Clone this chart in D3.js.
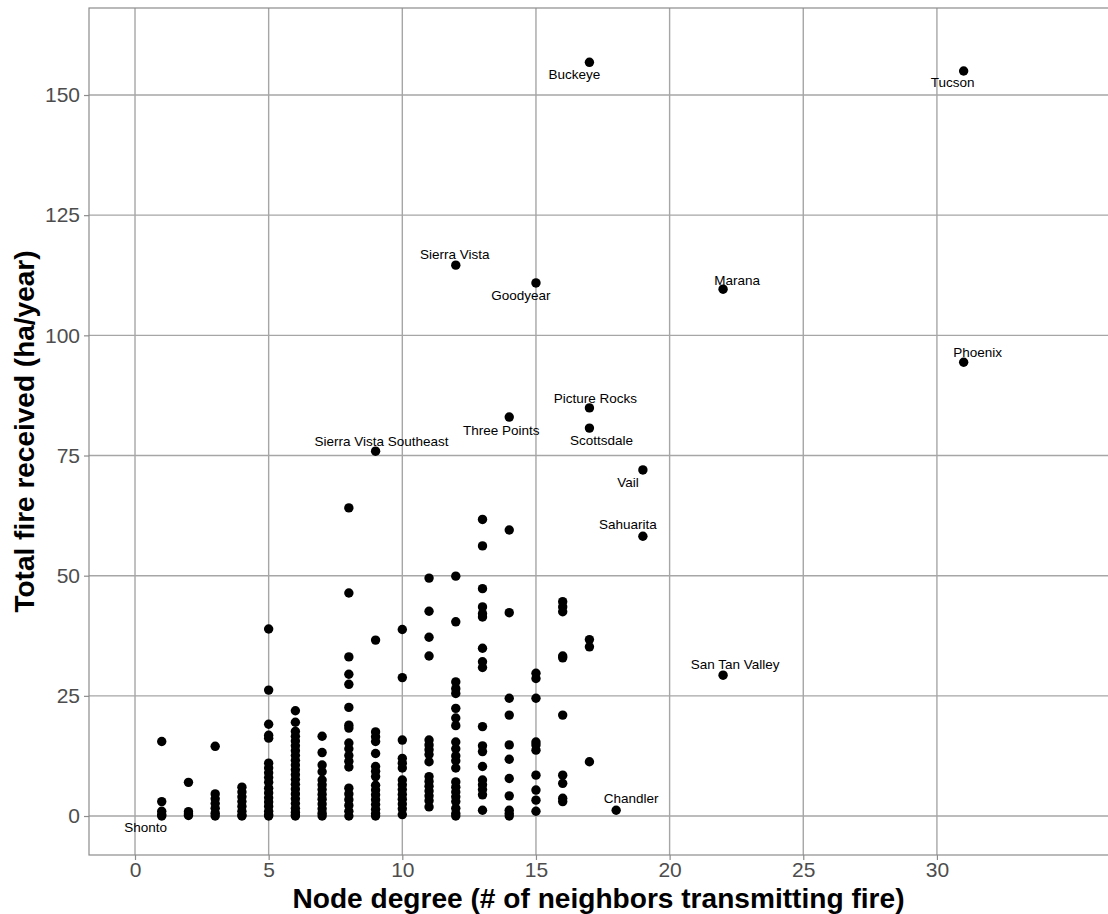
<!DOCTYPE html>
<html>
<head>
<meta charset="utf-8">
<script src="https://cdn.jsdelivr.net/npm/d3@7"></script>
<style>
  body { margin: 0; background: #fff; }
  svg { display: block; font-family: "Liberation Sans", Arial, sans-serif; }
</style>
</head>
<body>
<svg id="chart"></svg>
<script>
// unlabelled municipalities, grouped by node degree
const degrees = [1, 2, 3, 4, 5, 6, 7, 8, 9, 10, 11, 12, 13, 14, 15, 16, 17];
const fireByDegree = [
  [15.5, 3.0, 1.0, 0.3],
  [7.0, 0.9, 0.4, 0.1],
  [14.5, 4.6, 3.6, 2.6, 1.6, 0.6, 0],
  [6.0, 5.0, 4.0, 3.0, 2.0, 1.0, 0.2, 0],
  [38.9, 26.2, 19.1, 16.8, 16.2, 11.0, 10.0, 9.0, 8.0, 7.0, 5.8, 4.8, 3.8, 2.9, 2.0, 1.0, 0.3, 0],
  [21.9, 19.5, 17.6, 16.6, 15.6, 14.6, 13.6, 12.6, 11.6, 10.6, 9.6, 8.6, 7.6, 6.6, 5.6, 4.6, 3.6, 2.6, 1.6, 0.8, 0.2, 0],
  [16.6, 13.2, 10.6, 9.2, 7.5, 6.5, 5.5, 4.5, 3.5, 2.5, 1.5, 0.6, 0],
  [64.1, 46.4, 33.1, 29.5, 27.4, 22.6, 18.9, 18.3, 15.2, 14.0, 12.6, 11.4, 10.2, 5.8, 4.6, 3.4, 2.2, 1.0, 0],
  [36.6, 17.5, 16.5, 15.5, 13.0, 10.3, 9.3, 8.2, 6.4, 5.4, 4.4, 3.4, 2.4, 1.4, 0.5, 0],
  [38.8, 28.8, 15.8, 12.0, 11.0, 10.0, 7.5, 6.5, 5.5, 4.5, 3.5, 2.5, 1.5, 0.3],
  [49.5, 42.6, 37.2, 33.3, 15.8, 14.8, 13.8, 12.8, 11.3, 8.2, 7.2, 6.2, 5.2, 4.2, 3.2, 1.9],
  [49.9, 40.4, 27.9, 26.5, 25.5, 22.4, 20.4, 18.8, 15.4, 14.0, 12.5, 11.5, 10.0, 7.1, 6.0, 5.0, 4.0, 3.0, 1.6, 0.5, 0],
  [61.7, 56.2, 47.3, 43.5, 42.1, 41.4, 34.9, 32.1, 30.9, 18.6, 14.6, 13.4, 10.3, 7.5, 6.5, 5.5, 4.4, 1.2],
  [59.5, 42.3, 24.5, 21.0, 14.8, 11.8, 7.8, 4.2, 1.2, 0.5, 0],
  [29.7, 28.6, 24.5, 15.4, 14.8, 13.7, 8.5, 5.4, 3.3, 1.0],
  [44.6, 43.5, 42.5, 33.3, 32.9, 21.0, 8.5, 6.8, 3.7, 3.0],
  [36.7, 35.2, 11.3]
];

// labelled municipalities
const cityNames = ["Buckeye", "Tucson", "Sierra Vista", "Goodyear", "Marana", "Phoenix",
  "Picture Rocks", "Three Points", "Scottsdale", "Sierra Vista Southeast", "Vail",
  "Sahuarita", "San Tan Valley", "Chandler", "Shonto"];
const cityDegree = [17, 31, 12, 15, 22, 31, 17, 14, 17, 9, 19, 19, 22, 18, 1];
const cityFire = [156.8, 155.0, 114.6, 110.9, 109.6, 94.4, 84.9, 83.0, 80.7, 75.9, 72.0, 58.2, 29.3, 1.2, 0];

const xTicks = [0, 5, 10, 15, 20, 25, 30];
const yTicks = [0, 25, 50, 75, 100, 125, 150];

// label nudges in pixels (text centre, baseline) relative to the point
const labelNudge = {
  "Buckeye": [-15, 17], "Tucson": [-11, 16], "Sierra Vista": [-1, -6], "Goodyear": [-15, 17],
  "Marana": [14, -4], "Phoenix": [14, -5], "Picture Rocks": [6, -5], "Three Points": [-8, 18],
  "Scottsdale": [12, 17], "Sierra Vista Southeast": [6, -5], "Vail": [-15, 17],
  "Sahuarita": [-15, -7], "San Tan Valley": [12, -6], "Chandler": [15, -7], "Shonto": [-16, 16]
};

const W = 1108, H = 914;
const margin = { top: 8, right: 0, bottom: 59, left: 89 };
const width = W - margin.left - margin.right;
const height = H - margin.top - margin.bottom;

const svg = d3.select("#chart").attr("width", W).attr("height", H);
const g = svg.append("g").attr("transform", `translate(${margin.left},${margin.top})`);

const x = d3.scaleLinear().domain([-1.721, 36.40]).range([0, width]);
const y = d3.scaleLinear().domain([-8.11, 168.1]).range([height, 0]);

const points = [];
degrees.forEach((d, i) => fireByDegree[i].forEach((v) => points.push({ degree: d, fire: v })));
const cities = cityNames.map((n, i) => ({ name: n, degree: cityDegree[i], fire: cityFire[i] }));

const gridColor = "#a6a6a6";

// grid
g.append("g")
  .selectAll("line")
  .data(xTicks)
  .join("line")
  .attr("x1", (d) => x(d)).attr("x2", (d) => x(d))
  .attr("y1", 0).attr("y2", height)
  .attr("stroke", gridColor).attr("stroke-width", 1.4);

g.append("g")
  .selectAll("line")
  .data(yTicks)
  .join("line")
  .attr("x1", 0).attr("x2", width)
  .attr("y1", (d) => y(d)).attr("y2", (d) => y(d))
  .attr("stroke", gridColor).attr("stroke-width", 1.4);

// panel border (right edge falls outside the page)
g.append("rect")
  .attr("x", 0).attr("y", 0)
  .attr("width", width + 4).attr("height", height)
  .attr("fill", "none")
  .attr("stroke", "#8c8c8c").attr("stroke-width", 1.2);

// axes
const xAxis = g.append("g")
  .attr("transform", `translate(0,${height})`)
  .call(d3.axisBottom(x).tickValues(xTicks).tickSize(5).tickPadding(2));
const yAxis = g.append("g")
  .call(d3.axisLeft(y).tickValues(yTicks).tickSize(5).tickPadding(4));

[xAxis, yAxis].forEach((a) => {
  a.select(".domain").remove();
  a.selectAll(".tick line").attr("stroke", "#8c8c8c").attr("stroke-width", 1.2);
  a.selectAll(".tick text")
    .attr("fill", "#4d4d4d")
    .style("font-size", "21px")
    .style("font-family", "'Liberation Sans', Arial, sans-serif");
});

// points
g.append("g")
  .selectAll("circle")
  .data(points.concat(cities))
  .join("circle")
  .attr("cx", (d) => x(d.degree))
  .attr("cy", (d) => y(d.fire))
  .attr("r", 4.7)
  .attr("fill", "#000");

// city labels
g.append("g")
  .selectAll("text")
  .data(cities)
  .join("text")
  .attr("x", (d) => x(d.degree) + labelNudge[d.name][0])
  .attr("y", (d) => y(d.fire) + labelNudge[d.name][1])
  .attr("text-anchor", "middle")
  .style("font-size", "13.5px")
  .attr("fill", "#000")
  .text((d) => d.name);

// axis titles
svg.append("text")
  .attr("x", margin.left + width / 2)
  .attr("y", 908)
  .attr("text-anchor", "middle")
  .attr("textLength", 612)
  .attr("lengthAdjust", "spacingAndGlyphs")
  .style("font-size", "27.5px")
  .style("font-weight", "bold")
  .text("Node degree (# of neighbors transmitting fire)");

svg.append("text")
  .attr("transform", `translate(34,${margin.top + height / 2}) rotate(-90)`)
  .attr("text-anchor", "middle")
  .style("font-size", "28px")
  .style("font-weight", "bold")
  .text("Total fire received (ha/year)");
</script>
</body>
</html>
